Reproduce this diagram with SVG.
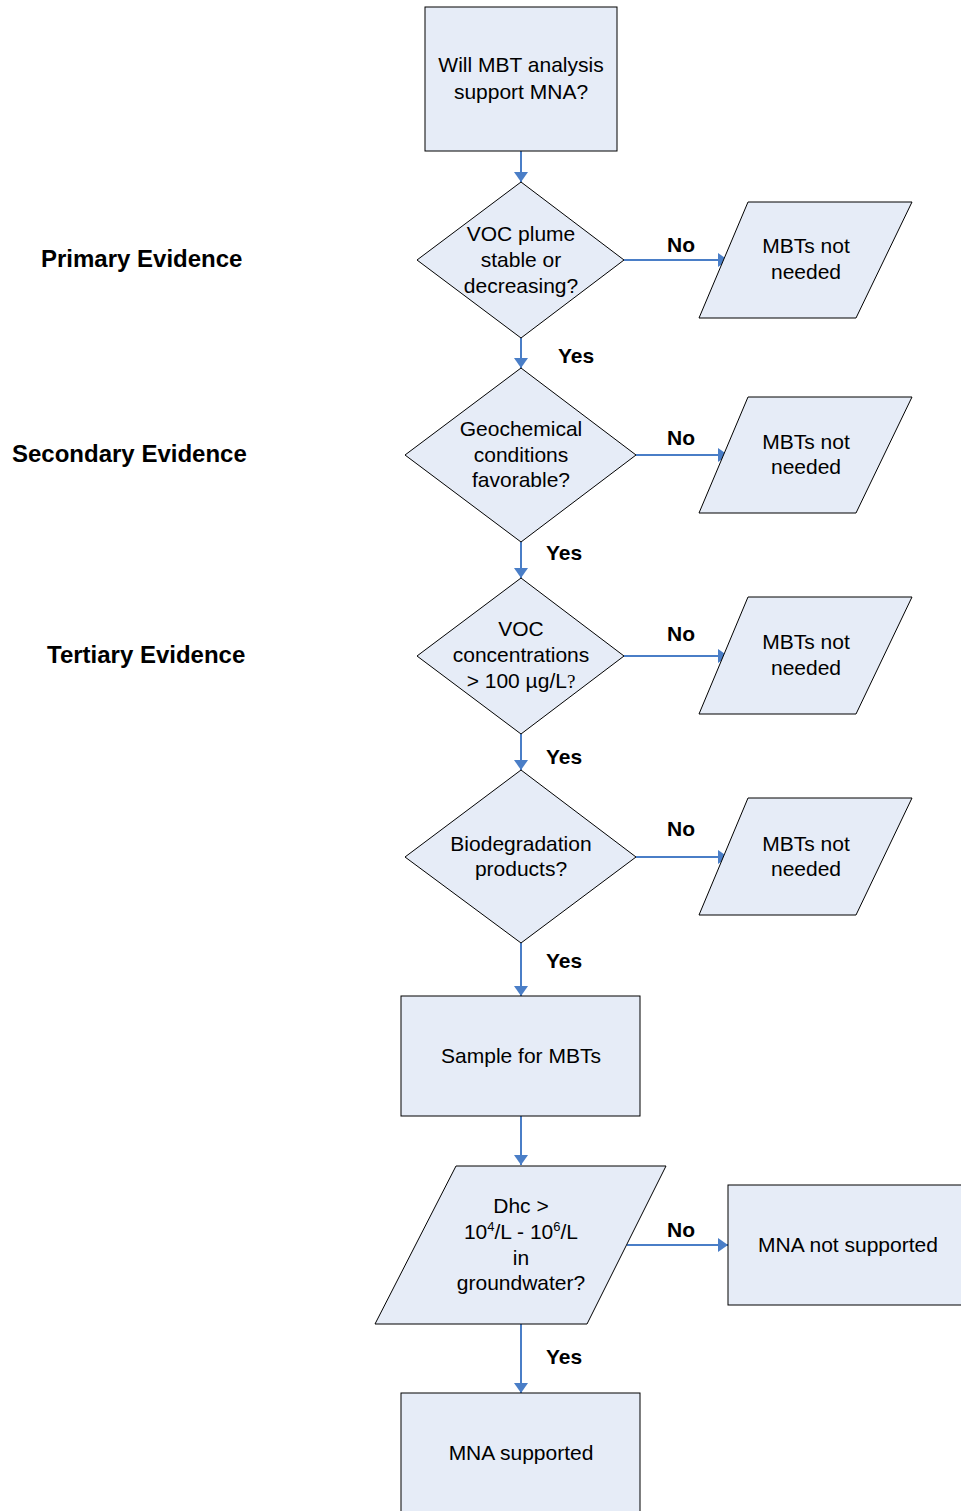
<svg xmlns="http://www.w3.org/2000/svg" width="961" height="1511" viewBox="0 0 961 1511">
<defs>
<marker id="arr" markerUnits="userSpaceOnUse" markerWidth="10" markerHeight="16" viewBox="0 0 10 16" refX="10" refY="8" orient="auto">
<path d="M0,1 L10,8 L0,15 Z" fill="#4A7EC7"/>
</marker>
<style>
.shape{fill:#E6ECF7;stroke:#000;stroke-width:1}
.t{font-family:"Liberation Sans",Arial,sans-serif;font-size:21px;fill:#000;text-anchor:middle}
.lbl{font-family:"Liberation Sans",Arial,sans-serif;font-size:21px;font-weight:bold;fill:#000}
.ev{font-family:"Liberation Sans",Arial,sans-serif;font-size:24px;font-weight:bold;fill:#000}
.c{stroke:#4A7EC7;stroke-width:2;fill:none;marker-end:url(#arr)}
</style>
</defs>
<rect width="961" height="1511" fill="#fff"/>

<g id="evidence-labels">
<text class="ev" x="41" y="267">Primary Evidence</text>
<text class="ev" x="12" y="462">Secondary Evidence</text>
<text class="ev" x="47" y="663">Tertiary Evidence</text>
</g>

<g id="connectors">
<line class="c" x1="521" y1="151" x2="521" y2="182"/>
<line class="c" x1="521" y1="338" x2="521" y2="368"/>
<line class="c" x1="521" y1="542" x2="521" y2="578"/>
<line class="c" x1="521" y1="734" x2="521" y2="770"/>
<line class="c" x1="521" y1="943" x2="521" y2="996"/>
<line class="c" x1="521" y1="1116" x2="521" y2="1165"/>
<line class="c" x1="521" y1="1324" x2="521" y2="1393"/>
<line class="c" x1="624" y1="260" x2="728" y2="260"/>
<line class="c" x1="636" y1="455" x2="728" y2="455"/>
<line class="c" x1="624" y1="656" x2="728" y2="656"/>
<line class="c" x1="636" y1="857" x2="728" y2="857"/>
<line class="c" x1="627" y1="1245" x2="728" y2="1245"/>
<text class="lbl" x="667" y="252">No</text>
<text class="lbl" x="558" y="363">Yes</text>
<text class="lbl" x="667" y="445">No</text>
<text class="lbl" x="546" y="560">Yes</text>
<text class="lbl" x="667" y="641">No</text>
<text class="lbl" x="546" y="764">Yes</text>
<text class="lbl" x="667" y="836">No</text>
<text class="lbl" x="546" y="968">Yes</text>
<text class="lbl" x="667" y="1237">No</text>
<text class="lbl" x="546" y="1364">Yes</text>
</g>

<g id="start">
<rect class="shape" x="425" y="7" width="192" height="144"/>
<text class="t" x="521" y="72">Will MBT analysis</text>
<text class="t" x="521" y="99">support MNA?</text>
</g>

<g id="d1">
<polygon class="shape" points="521,182 624,260 521,338 417,260"/>
<text class="t" x="521" y="241">VOC plume</text>
<text class="t" x="521" y="267">stable or</text>
<text class="t" x="521" y="293">decreasing?</text>
</g>
<g id="p1">
<polygon class="shape" points="748,202 912,202 856,318 699,318"/>
<text class="t" x="806" y="253">MBTs not</text>
<text class="t" x="806" y="279">needed</text>
</g>

<g id="d2">
<polygon class="shape" points="521,368 636,455 521,542 405,455"/>
<text class="t" x="521" y="436">Geochemical</text>
<text class="t" x="521" y="462">conditions</text>
<text class="t" x="521" y="487">favorable?</text>
</g>
<g id="p2">
<polygon class="shape" points="748,397 912,397 856,513 699,513"/>
<text class="t" x="806" y="449">MBTs not</text>
<text class="t" x="806" y="474">needed</text>
</g>

<g id="d3">
<polygon class="shape" points="521,578 624,656 521,734 417,656"/>
<text class="t" x="521" y="636">VOC</text>
<text class="t" x="521" y="662">concentrations</text>
<text class="t" x="521" y="688">&gt; 100 µg/L<tspan font-family="'Liberation Serif',serif" font-size="19">?</tspan></text>
</g>
<g id="p3">
<polygon class="shape" points="748,597 912,597 856,714 699,714"/>
<text class="t" x="806" y="649">MBTs not</text>
<text class="t" x="806" y="675">needed</text>
</g>

<g id="d4">
<polygon class="shape" points="521,770 636,857 521,943 405,857"/>
<text class="t" x="521" y="851">Biodegradation</text>
<text class="t" x="521" y="876">products?</text>
</g>
<g id="p4">
<polygon class="shape" points="748,798 912,798 856,915 699,915"/>
<text class="t" x="806" y="851">MBTs not</text>
<text class="t" x="806" y="876">needed</text>
</g>

<g id="sample">
<rect class="shape" x="401" y="996" width="239" height="120"/>
<text class="t" x="521" y="1063">Sample for MBTs</text>
</g>

<g id="dhc">
<polygon class="shape" points="456,1166 666,1166 587,1324 375,1324"/>
<text class="t" x="521" y="1213">Dhc &gt;</text>
<text class="t" x="521" y="1239">10<tspan font-size="13" dy="-8">4</tspan><tspan dy="8">/L - 10</tspan><tspan font-size="13" dy="-8">6</tspan><tspan dy="8">/L</tspan></text>
<text class="t" x="521" y="1265">in</text>
<text class="t" x="521" y="1290">groundwater?</text>
</g>

<g id="not-supported">
<rect class="shape" x="728" y="1185" width="240" height="120"/>
<text class="t" x="848" y="1252">MNA not supported</text>
</g>

<g id="supported">
<rect class="shape" x="401" y="1393" width="239" height="130"/>
<text class="t" x="521" y="1460">MNA supported</text>
</g>
</svg>
